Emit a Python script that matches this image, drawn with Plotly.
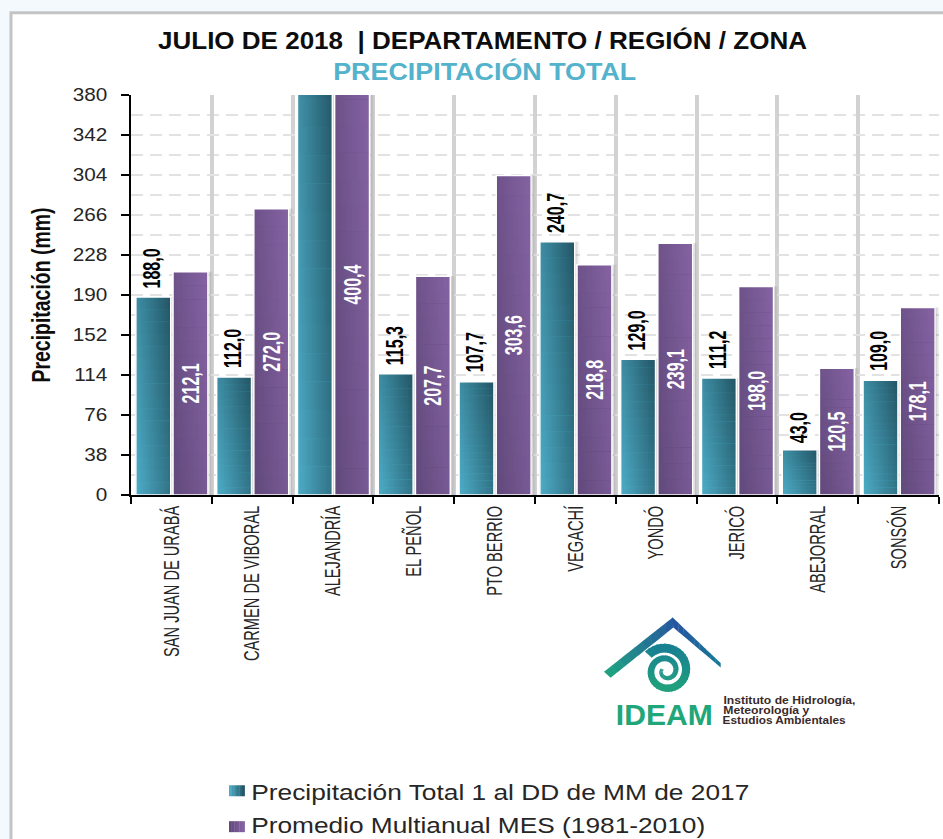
import math
import plotly.graph_objects as go

categories = ["SAN JUAN DE URABÁ", "CARMEN DE VIBORAL", "ALEJANDRÍA", "EL PEÑOL", "PTO BERRIO",
              "VEGACHÍ", "YONDÓ", "JERICÓ", "ABEJORRAL", "SONSÓN"]
precip_total = [188.0, 112.0, 430.0, 115.3, 107.7, 240.7, 129.0, 111.2, 43.0, 109.0]
promedio = [212.1, 272.0, 400.4, 207.7, 303.6, 218.8, 239.1, 198.0, 120.5, 178.1]
y_ticks = [0, 38, 76, 114, 152, 190, 228, 266, 304, 342, 380]
title_text = "JULIO DE 2018  | DEPARTAMENTO / REGIÓN / ZONA"
subtitle_text = "PRECIPITACIÓN TOTAL"
y_title = "Precipitación (mm)"
legend_total = "Precipitación Total 1 al DD de MM de 2017"
legend_prom = "Promedio Multianual MES (1981-2010)"

W, H = 943, 839
L, T, PW, PH = 131, 94.5, 808, 401
SANS = "Liberation Sans"


def px(x):
    return (x - L) / PW


def py(y):
    return 1 - (y - T) / PH


def lerp(a, b, t):
    return tuple(a[i] + (b[i] - a[i]) * t for i in range(3))


def rgb(c):
    return "rgb(%d,%d,%d)" % tuple(round(v) for v in c)


fig = go.Figure()

BAR_W = 0.432
OFF_TEAL = -0.44
OFF_PURP = 0.02


def gradient(values, offset, c_lo, c_hi):
    """Diagonal gradient built from nested bars, each series drawn through the axes."""
    cols, rows = 14, 16
    for k, a in ((0.06, 0.05), (0.04, 0.08), (0.02, 0.12)):
        fig.add_bar(x=categories, y=values, offset=offset, width=BAR_W + k,
                    marker=dict(color="rgba(60,60,60,%g)" % a, line_width=0),
                    showlegend=False, hoverinfo="skip")
    for r in range(rows):
        f = 1 - r / rows
        ys = [v * f for v in values]
        for c in range(cols):
            u = c / (cols - 1)
            v = r / (rows - 1)
            t = u * 0.65 + (1 - v) * 0.35
            fig.add_bar(x=categories, y=ys, offset=offset + BAR_W * c / cols,
                        width=BAR_W * (1 - c / cols),
                        marker=dict(color=rgb(lerp(c_lo, c_hi, t)), line_width=0),
                        showlegend=False, hoverinfo="skip")


TEAL = ((76, 170, 196), (36, 88, 104))
PURPLE = ((98, 74, 124), (132, 98, 162))
gradient(precip_total, OFF_TEAL, *TEAL)
gradient(promedio, OFF_PURP, *PURPLE)

# white outlines plus the in-bar labels
fig.add_bar(name=legend_total, x=categories, y=precip_total, offset=OFF_TEAL, width=BAR_W,
            marker=dict(color="rgba(0,0,0,0)", line=dict(color="white", width=1.5)),
            showlegend=False, hoverinfo="x+y")
fig.add_bar(name=legend_prom, x=categories, y=promedio, offset=OFF_PURP, width=BAR_W,
            marker=dict(color="rgba(0,0,0,0)", line=dict(color="white", width=1.5)),
            text=[("%.1f" % v).replace(".", ",") for v in promedio],
            textposition="inside", insidetextanchor="middle", textangle=-90,
            insidetextfont=dict(family=SANS, size=24, color="white", weight="bold"),
            showlegend=False, hoverinfo="x+y")

shapes = [
    dict(type="rect", xref="paper", yref="paper", x0=px(11), x1=px(960), y0=py(12), y1=py(860),
         fillcolor="white", line=dict(color="#c4c4c4", width=3), layer="below"),
]


def lz(x, y):
    return px(580 + x / 3), py(600 + y / 3)


def poly(points, color):
    d = "M" + " L".join("%.5f,%.5f" % lz(*p) for p in points) + " Z"
    return dict(type="path", xref="paper", yref="paper", path=d, fillcolor=color, line_width=0, layer="above")


# logo: roof
steps = 9
for i in range(steps):
    a, b = i / steps, (i + 1.05) / steps
    p = [
        (72 + (278 - 72) * a, 218 + (55 - 218) * a),
        (92 + (280 - 92) * a, 236 + (85 - 236) * a),
        (92 + (280 - 92) * b, 236 + (85 - 236) * b),
        (72 + (278 - 72) * b, 218 + (55 - 218) * b),
    ]
    shapes.append(poly(p, rgb(lerp((32, 160, 130), (38, 84, 160), a))))
for i in range(steps):
    a, b = i / steps, min(1, (i + 1.05) / steps)
    p = [
        (278 + (422 - 278) * a, 55 + (192 - 55) * a),
        (280 + (422 - 280) * a, 85 + (205 - 85) * a),
        (280 + (422 - 280) * b, 85 + (205 - 85) * b),
        (278 + (422 - 278) * b, 55 + (192 - 55) * b),
    ]
    shapes.append(poly(p, rgb(lerp((38, 84, 160), (20, 125, 150), a))))


# logo: swirl
def swirl_point(f, side):
    ang = -2.4 + f * 2 * math.pi * 1.95
    r = 60 * (1 - f) + 12 + side * (14 - 9 * f)
    return (258 + r * math.cos(ang), 215 + r * math.sin(ang))


n = 80
for i in range(n):
    f0, f1 = i / n, min(1, (i + 1.3) / n)
    p = [swirl_point(f0, -1), swirl_point(f0, 1), swirl_point(f1, 1), swirl_point(f1, -1)]
    col = rgb(lerp((22, 122, 150), (34, 168, 120), max(0, min(1, (p[0][1] - 140) / 140))))
    shapes.append(poly(p, col))

anns = [
    dict(text=subtitle_text, x=px(484.5), y=py(71), xref="paper", yref="paper", showarrow=False,
         font=dict(family=SANS, size=23, color="#53b2cc", weight="bold"), xanchor="center", yanchor="middle"),
    dict(text="IDEAM", x=px(664.5), y=py(716), xref="paper", yref="paper", showarrow=False,
         font=dict(family=SANS, size=30, color="#21a679", weight="bold"), xanchor="center", yanchor="middle"),
]
for txt, yy, cxx in (("Instituto de Hidrología,", 702, 789), ("Meteorología y", 712, 766), ("Estudios Ambientales", 722, 784.5)):
    anns.append(dict(text=txt, x=px(cxx), y=py(yy), xref="paper", yref="paper", showarrow=False,
                     font=dict(family=SANS, size=10, color="#3a2a2a", weight="bold"),
                     xanchor="center", yanchor="middle"))

# black labels over the teal bars (the clipped bar has no visible label)
for c, v in zip(categories, precip_total):
    if v > y_ticks[-1]:
        continue
    anns.append(dict(text=("%.1f" % v).replace(".", ","), x=c, y=v, xref="x", yref="y", xshift=-20, yshift=-3,
                     textangle=-90, showarrow=False, yanchor="bottom", xanchor="center",
                     font=dict(family=SANS, size=24, color="black", weight="bold")))

# legend swatches and entries
for yy, ty, txt, cxx, (c0, c1) in ((792, 793.5, legend_total, 500, TEAL), (828, 826.5, legend_prom, 478, PURPLE)):
    for i in range(6):
        shapes.append(dict(type="rect", xref="paper", yref="paper", x0=px(229 + i * 2.6),
                           x1=px(229 + (i + 1) * 2.6 + .3), y0=py(yy - 5.5), y1=py(yy + 5.5),
                           line_width=0, fillcolor=rgb(lerp(c0, c1, i / 5))))
    anns.append(dict(text=txt, x=px(cxx), y=py(ty), xref="paper", yref="paper", showarrow=False,
                     xanchor="center", yanchor="middle", font=dict(family=SANS, size=22, color="#262626")))

fig.update_layout(
    width=W, height=H, autosize=False,
    margin=dict(l=L, r=W - L - PW, t=T, b=H - T - PH, pad=0),
    paper_bgcolor="#f3f9fc", plot_bgcolor="rgba(0,0,0,0)",
    barmode="overlay", showlegend=False,
    title=dict(text=title_text, x=482.5 / W, xanchor="center",
               y=1 - 41 / H, yanchor="middle",
               font=dict(family=SANS, size=23.5, color="#0d0d0d", weight="bold")),
    shapes=shapes, annotations=anns,
    xaxis=dict(type="category", categoryorder="array", categoryarray=categories, range=[-0.5, 9.5],
               tickson="boundaries", showgrid=True, gridcolor="#d2d2d2", gridwidth=3.5,
               showline=True, linecolor="black", linewidth=2, ticks="outside", ticklen=7, tickwidth=2,
               tickcolor="black", tickangle=-90,
               tickfont=dict(family=SANS, size=22, color="#262626")),
    yaxis=dict(range=[0, 380], tickvals=y_ticks, showgrid=True, gridcolor="#e2e2e2", gridwidth=1.5,
               griddash="12px,7px", showline=True, linecolor="black", linewidth=2, ticks="outside",
               ticklen=8, tickwidth=2, tickcolor="black", zeroline=False, ticklabelstandoff=10,
               minor=dict(dtick=19, tick0=0, showgrid=True, gridcolor="#e2e2e2", gridwidth=1.5,
                          griddash="12px,7px"),
               tickfont=dict(family=SANS, size=18.5, color="#262626"),
               title=dict(text=y_title, standoff=18,
                          font=dict(family=SANS, size=26, color="#0d0d0d", weight="bold"))),
)

# The reference's text is condensed or widened; textLength reshapes the real text to the same run length.
post = """
document.body.style.margin = '0';
document.documentElement.style.background = '#f3f9fc';
document.documentElement.style.overflow = 'hidden';
var lengths = {
  "%s": 649, "%s": 303, "%s": 498, "%s": 454, "%s": 175, "IDEAM": 97,
  "Instituto de Hidrología,": 132, "Meteorología y": 86, "Estudios Ambientales": 123
};
function fit(t, n) {
  t.setAttribute('textLength', n);
  t.setAttribute('lengthAdjust', 'spacingAndGlyphs');
}
document.querySelectorAll('svg text').forEach(function (t) {
  var s = t.textContent;
  if (lengths[s]) fit(t, lengths[s]);
  else if (/^[0-9]+,[0-9]$/.test(s)) fit(t, t.getComputedTextLength() * 0.667);
});
document.querySelectorAll('.xtick text').forEach(function (t) { fit(t, t.getComputedTextLength() * 0.665); });
document.querySelectorAll('.ytick text').forEach(function (t) { fit(t, t.getComputedTextLength() * 1.12); });
""" % (title_text, subtitle_text, legend_total, legend_prom, y_title)

fig.write_html("out.html", post_script=post, config=dict(displayModeBar=False))
